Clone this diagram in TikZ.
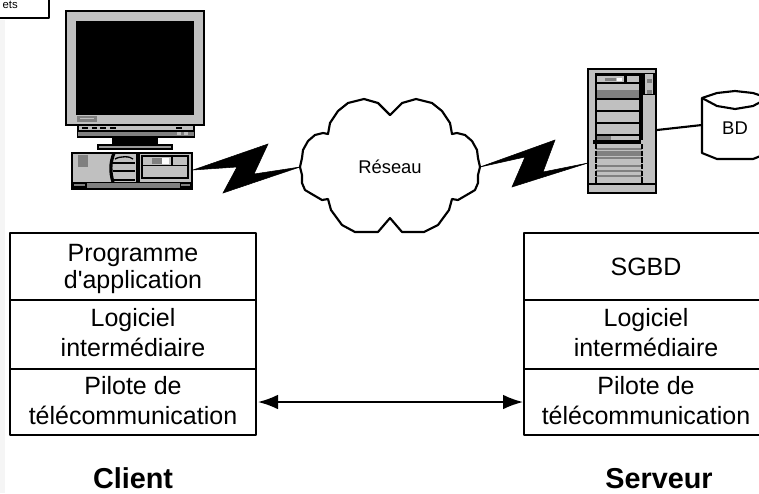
\documentclass[tikz,border=0pt]{standalone}
\usepackage{fontspec}
\setmainfont{Liberation Sans}
\newfontfamily\plainsans{Liberation Sans}
\usetikzlibrary{arrows.meta}
\definecolor{g1}{HTML}{C0C0C0}
\definecolor{g2}{HTML}{808080}
\tikzset{
  px/.style={x=0.75pt,y=-0.75pt},
  line/.style={draw=black,line width=1.6pt,line join=round},
  gbox/.style={fill=g1,draw=black,line width=1.5pt},
  dbox/.style={fill=g2,draw=none},
  stack/.style={draw=none,minimum width=185pt,align=center,inner sep=0pt,font=\fontsize{18.75}{22}\selectfont},
  bolt/.style={fill=black,draw=black,line width=.4pt,line join=miter},
  title/.style={font=\fontsize{21.6}{24}\selectfont\bfseries,inner sep=0pt,anchor=base},
  small/.style={font=\fontsize{13.8}{16}\selectfont,inner sep=0pt},
}
\begin{document}
\begin{tikzpicture}[px]
\clip (0,0) rectangle (759,493);
\fill[white] (0,0) rectangle (759,493);
\fill[black!4] (0,20) rectangle (5,493);
% corner note
\draw[line,line width=1.3pt,fill=white] (-10,-10) rectangle (49,18);
\node[anchor=base east,inner sep=0pt,font=\fontsize{8.5}{10}\selectfont] (note) at (18,8) {ets};
% monitor
\draw[gbox] (66,11) rectangle (204,125);
\fill[black] (76,21) rectangle (194,115);
\fill[g2] (77,116) rectangle (97,122);
\fill[g1] (80,118) rectangle (94,119);
\draw[gbox] (78,125) rectangle (194,137);
\fill[dbox] (78,131) rectangle (194,136);
\draw[black,line width=.9pt] (78,131) -- (194,131);
\foreach \a/\b in {82/88,92/97,100/106,110/116,176/182}{\fill[black] (\a,127) rectangle (\b,129);}
\fill[g1] (177,132) rectangle (181,135);\fill[g1] (184,132) rectangle (188,135);
\fill[black] (112,137) rectangle (158,145);
\draw[gbox,fill=g2!60!g1] (98,145) rectangle (172,149);
% desktop
\draw[gbox] (72,153) rectangle (192,189);
\fill[g2] (78,155) rectangle (88,167);
\fill[black] (72,182) rectangle (192,189);
\fill[g2] (87,183) rectangle (180,188);
\fill[g2] (74,184) rectangle (85,186);\fill[g2] (181,184) rectangle (190,186);
\draw[black,line width=2.4pt] (114,153) .. controls (110,163) and (110,172) .. (113,182);
\draw[black,line width=1.1pt] (113,163) -- (135,163) (113,171) -- (135,171) (114,180) -- (135,180);
\draw[black,line width=1pt] (115,159) .. controls (120,156) and (130,156) .. (133,159);
\fill[black] (135.5,153) rectangle (140,182);
\draw[black,line width=2pt,fill=g1] (142,156) rectangle (188,178);
\draw[black,line width=1.4pt] (142,165.5) -- (188,165.5) (172,156) -- (172,165);
\fill[white] (144,158) rectangle (171,164);
\fill[g1] (144,158) rectangle (152,164);
\fill[g2] (152,158) rectangle (162,164);
\fill[g1] (169,158) rectangle (171,164);
% bolts
\draw[bolt] (193,170) -- (268,144) -- (254,174) -- (300,167) -- (223,193) -- (237,167) -- cycle;
\draw[bolt] (480,167) -- (555,140) -- (543,172) -- (588,163) -- (512,187) -- (525,157) -- cycle;
% cloud
\draw[line,fill=white] (390,115) -- (402,103) -- (416,99) -- (432,103) -- (442,111) -- (450,123) -- (452,134) -- (457,133) -- (465,135) -- (472,141) -- (477,150) -- (478,158) -- (480,167) -- (478,175) -- (478,183) -- (475,190) -- (470,193) -- (458,200) -- (452,199) -- (449,210) -- (438,225) -- (424,232) -- (402,232) -- (390,218) -- (378,232) -- (355,232) -- (342,225) -- (331,210) -- (328,199) -- (322,200) -- (310,193) -- (305,190) -- (302,183) -- (302,175) -- (300,167) -- (302,158) -- (303,150) -- (308,141) -- (315,135) -- (323,133) -- (328,134) -- (330,123) -- (338,111) -- (348,103) -- (364,99) -- (378,103) -- cycle;
\node[small] (net) at (390,167) {Réseau};
% server
\draw[gbox,line width=1.6pt] (588,69) rectangle (656,193);
\fill[black] (595,73) rectangle (643,140);
\fill[black] (643,73) rectangle (655,95);
\fill[g1] (645,74) rectangle (653,94);
\fill[g2] (647,79) rectangle (652,83);\fill[g2] (647,90) rectangle (652,94);
\fill[g1] (597,76) rectangle (624,82);\fill[white] (617,78) rectangle (622,81);\fill[g2] (605,78) rectangle (616,81);
\fill[g1] (627,76) rectangle (639,82);
\fill[g1] (597,84) rectangle (639,90);\fill[g2] (597,90) rectangle (639,98);
\fill[g1] (597,100) rectangle (639,110);
\fill[g1] (597,112) rectangle (639,122);
\fill[g1] (597,124) rectangle (639,134);
\fill[g1] (597,136) rectangle (639,140);\fill[g2] (597,136) rectangle (611,140);
\fill[black] (593,140) rectangle (641,144);
\fill[g1] (596,144) rectangle (642,183);
\foreach \y in {148,152,157,165,170,175}{\fill[g2] (596,\y) rectangle (642,\y+2);}
\fill[g2] (596,151) rectangle (642,156);
\draw[black,line width=1.5pt,dash pattern=on 4pt off 1pt] (596,144) -- (596,183) (642,144) -- (642,183);
\fill[black] (588,183) rectangle (656,185);
% database
\draw[line,fill=white] (702,98) -- (717,93) -- (735,91) -- (753,93) -- (768,98) -- (768,153) -- (753,159) -- (717,159) -- (702,153) -- cycle;
\draw[line] (702,98) -- (717,106) -- (735,109) -- (753,106) -- (768,98);
\node[small] (bd) at (735,128) {BD};
\coordinate (srvport) at (657,130);
\coordinate (bdport) at (702,125);
\draw[line] (srvport) -- (bdport);
% client stack
\draw[line] (10,233) rectangle (256,435) (10,300) -- (256,300) (10,369) -- (256,369);
\node[stack] (c1) at (133,269) {Programme\\[-2pt]{\plainsans d'application}};
\node[stack] (c2) at (133,332.5) {Logiciel\\[.7pt]intermédiaire};
\node[stack] (c3) at (133,400.5) {Pilote de\\[.7pt]télécommunication};
% server stack
\draw[line] (764,233) -- (524,233) -- (524,435) -- (764,435) (524,300) -- (764,300) (524,369) -- (764,369);
\node[stack] (s1) at (646,266.5) {SGBD};
\node[stack] (s2) at (646,332.5) {Logiciel\\[.7pt]intermédiaire};
\node[stack] (s3) at (646,400.5) {Pilote de\\[.7pt]télécommunication};
\coordinate (cport) at (258,402);
\coordinate (sport) at (523,402);
\draw[black,line width=1.3pt,{Latex[length=15pt,width=11pt]}-{Latex[length=15pt,width=11pt]}] (cport) -- (sport);
\node[title] (client) at (133,488) {Client};
\node[title] (serveur) at (659,488) {Serveur};
\end{tikzpicture}
\end{document}
